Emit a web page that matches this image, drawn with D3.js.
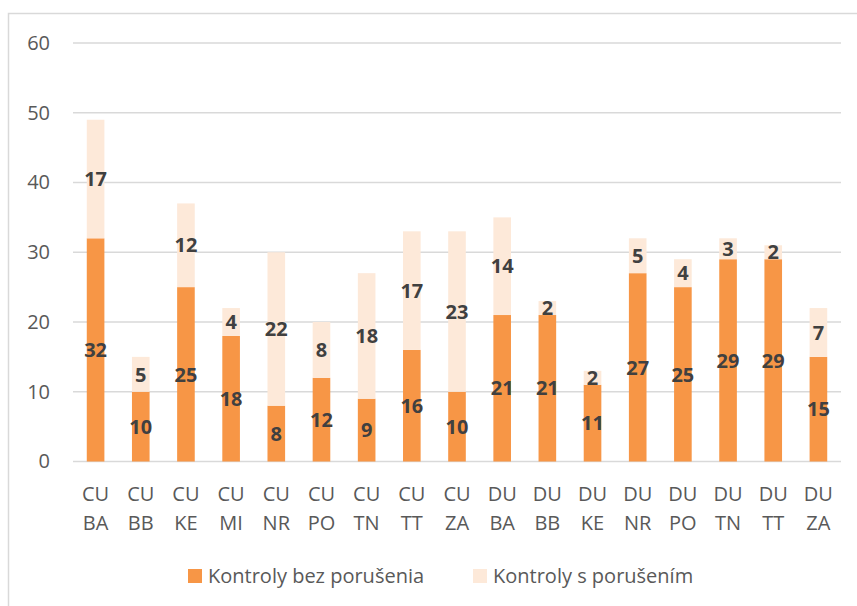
<!DOCTYPE html>
<html>
<head>
<meta charset="utf-8">
<script src="https://cdn.jsdelivr.net/npm/d3@7"></script>
<style>
  body { margin: 0; background: #fff; }
  svg { display: block; font-family: "Open Sans", "Noto Sans", sans-serif; }
</style>
</head>
<body>
<script>
const categories = ["CU BA", "CU BB", "CU KE", "CU MI", "CU NR", "CU PO", "CU TN", "CU TT", "CU ZA",
  "DU BA", "DU BB", "DU KE", "DU NR", "DU PO", "DU TN", "DU TT", "DU ZA"];
const bezPorusenia = [32, 10, 25, 18, 8, 12, 9, 16, 10, 21, 21, 11, 27, 25, 29, 29, 15];
const sPorusenim = [17, 5, 12, 4, 22, 8, 18, 17, 23, 14, 2, 2, 5, 4, 3, 2, 7];
const seriesNames = ["Kontroly bez porušenia", "Kontroly s porušením"];
const yTicks = [0, 10, 20, 30, 40, 50, 60];

(function app() {
  const W = 857, H = 606;
  const margin = { top: 43, right: 16, bottom: 144.5, left: 73 };
  const colors = ["#F79646", "#FDE9D9"];

  const svg = d3.select("body").append("svg")
    .attr("width", W).attr("height", H);

  // outer chart frame (cropped on right/bottom)
  svg.append("rect")
    .attr("x", 8.5).attr("y", 13.5)
    .attr("width", W + 20).attr("height", H + 20)
    .attr("fill", "none").attr("stroke", "#d9d9d9").attr("stroke-width", 1.5);

  const x = d3.scaleBand()
    .domain(categories)
    .range([margin.left, W - margin.right])
    .paddingInner(0.61).paddingOuter(0.305);

  const y = d3.scaleLinear()
    .domain([0, 60])
    .range([H - margin.bottom, margin.top]);

  // gridlines
  svg.append("g").selectAll("line")
    .data(yTicks)
    .enter().append("line")
    .attr("x1", margin.left).attr("x2", W - margin.right)
    .attr("y1", d => y(d)).attr("y2", d => y(d))
    .attr("stroke", "#d9d9d9").attr("stroke-width", 1.5);

  // y axis labels
  const yAxis = d3.axisLeft(y).tickValues(yTicks).tickSize(0).tickPadding(13);
  const gy = svg.append("g")
    .attr("transform", `translate(${margin.left - 10},0)`)
    .call(yAxis);
  gy.select(".domain").remove();
  gy.selectAll("text")
    .attr("fill", "#595959").attr("font-size", 20)
    .attr("font-family", "Open Sans, Noto Sans, sans-serif");

  const stackData = categories.map((c, i) => ({ cat: c, a: bezPorusenia[i], b: sPorusenim[i] }));
  const stack = d3.stack().keys(["a", "b"])(stackData);

  const layers = svg.append("g").selectAll("g")
    .data(stack)
    .enter().append("g")
    .attr("fill", (d, i) => colors[i]);

  layers.selectAll("rect")
    .data(d => d)
    .enter().append("rect")
    .attr("x", d => x(d.data.cat))
    .attr("width", x.bandwidth())
    .attr("y", d => y(d[1]))
    .attr("height", d => y(d[0]) - y(d[1]));

  // data labels
  const labels = svg.append("g").selectAll("g")
    .data(stack)
    .enter().append("g");
  labels.selectAll("text")
    .data(d => d)
    .enter().append("text")
    .attr("x", d => x(d.data.cat) + x.bandwidth() / 2)
    .attr("y", d => (y(d[0]) + y(d[1])) / 2)
    .attr("dy", "0.36em")
    .attr("text-anchor", "middle")
    .attr("font-size", 20).attr("font-weight", "bold")
    .attr("fill", "#404040")
    .text(d => d[1] - d[0]);

  // category labels (two lines)
  const cat = svg.append("g").selectAll("text")
    .data(categories)
    .enter().append("text")
    .attr("x", d => x(d) + x.bandwidth() / 2)
    .attr("y", 501)
    .attr("text-anchor", "middle")
    .attr("font-size", 20).attr("fill", "#595959");
  cat.append("tspan")
    .attr("x", d => x(d) + x.bandwidth() / 2)
    .text(d => d.split(" ")[0]);
  cat.append("tspan")
    .attr("x", d => x(d) + x.bandwidth() / 2)
    .attr("dy", 28.5)
    .text(d => d.split(" ")[1]);

  // legend
  const legendX = [188, 473];
  const legend = svg.append("g").selectAll("g")
    .data(seriesNames)
    .enter().append("g")
    .attr("transform", (d, i) => `translate(${legendX[i]},569)`);
  legend.append("rect")
    .attr("width", 14).attr("height", 14)
    .attr("fill", (d, i) => colors[i]);
  legend.append("text")
    .attr("x", 20).attr("y", 14)
    .attr("font-size", 20).attr("fill", "#595959")
    .text(d => d);
})();
</script>
</body>
</html>
